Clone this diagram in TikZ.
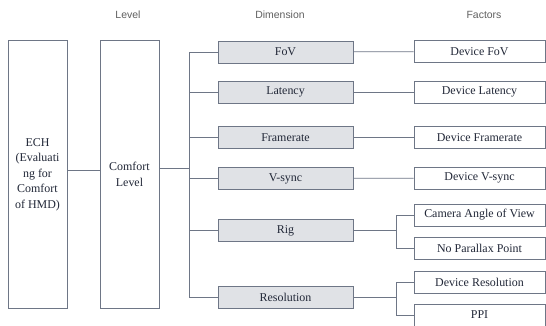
\documentclass[tikz,border=0pt]{standalone}
\usepackage{fontspec}
\setmainfont{Liberation Serif}
\newfontfamily\hdrfont{Liberation Sans}
\definecolor{boxc}{HTML}{6E7686}
\definecolor{txtc}{HTML}{222838}
\definecolor{fillc}{HTML}{E0E2E6}
\definecolor{hdrc}{HTML}{606060}
\begin{document}
\begin{tikzpicture}[x=1bp,y=-1bp,
  box/.style={draw=boxc, line width=0.8bp, text=txtc, inner sep=0pt,
    font=\fontsize{12}{15.5}\selectfont, align=center},
  tall/.style={box, minimum width=59bp, minimum height=268bp},
  dimbox/.style={box, fill=fillc, minimum width=135bp, minimum height=22bp},
  facbox/.style={box, fill=white, minimum width=131bp, minimum height=22bp},
  hdr/.style={text=hdrc, font=\hdrfont\fontsize{10.5}{12}\selectfont, inner sep=0pt},
  conn/.style={draw=boxc, line width=0.8bp}]
\useasboundingbox (0,0) rectangle (546,325);
\clip (0,0) rectangle (546,325);
\fill[white] (0,0) rectangle (546,325);
% headers
\node[hdr] (hlev) at (128,15) {Level};
\node[hdr] (hdim) at (280,15) {Dimension};
\node[hdr] (hfac) at (484,15) {Factors};
% tall boxes
\node[tall] (ech) at (37.5,174.5) {ECH\\(Evaluati\\ng for\\Comfort\\of HMD)};
\node[tall] (cl) at (129.5,174.5) {Comfort\\Level};
% dimensions
\node[dimbox] (fov) at (285.5,52) {FoV};
\node[dimbox] (lat) at (285.5,92) {Latency};
\node[dimbox] (fra) at (285.5,137.5) {Framerate};
\node[dimbox] (vsy) at (285.5,178.5) {V-sync};
\node[dimbox] (rig) at (285.5,230.5) {Rig};
\node[dimbox] (res) at (285.5,297) {Resolution};
% factors
\node[facbox] (dfov) at (479.5,51.5) {Device FoV};
\node[facbox] (dlat) at (479.5,92) {Device Latency};
\node[facbox] (dfra) at (479.5,137.5) {Device Framerate};
\node[facbox] (dvsy) at (479.5,178) {Device V-sync};
\node[facbox] (cam) at (479.5,215) {Camera Angle of View};
\node[facbox] (nop) at (479.5,248.5) {No Parallax Point};
\node[facbox] (dres) at (479.5,282.5) {Device Resolution};
\node[facbox] (ppi) at (479.5,315) {PPI};
% connectors
\coordinate (tr) at (189,0);
\coordinate (rb) at (396,0);
\draw[conn] ([yshift=4.5bp]ech.east) -- ([yshift=4.5bp]cl.west);
\draw[conn] ([yshift=6.5bp]cl.east) -- ([yshift=6.5bp]cl.east -| tr);
\draw[conn] (fov.west -| tr) -- (res.west -| tr);
\foreach \d in {fov,lat,fra,vsy,rig,res}{
  \draw[conn] (\d.west -| tr) -- (\d.west);
}
\draw[conn] (fov) -- (dfov);
\draw[conn] (lat) -- (dlat);
\draw[conn] (fra) -- (dfra);
\draw[conn] (vsy) -- (dvsy);
\draw[conn] (rig.east) -- (rig.east -| rb);
\draw[conn] (cam.west -| rb) -- (nop.west -| rb);
\draw[conn] (cam.west -| rb) -- (cam.west);
\draw[conn] (nop.west -| rb) -- (nop.west);
\draw[conn] (res.east) -- (res.east -| rb);
\draw[conn] (dres.west -| rb) -- (ppi.west -| rb);
\draw[conn] (dres.west -| rb) -- (dres.west);
\draw[conn] (ppi.west -| rb) -- (ppi.west);
\end{tikzpicture}
\end{document}
